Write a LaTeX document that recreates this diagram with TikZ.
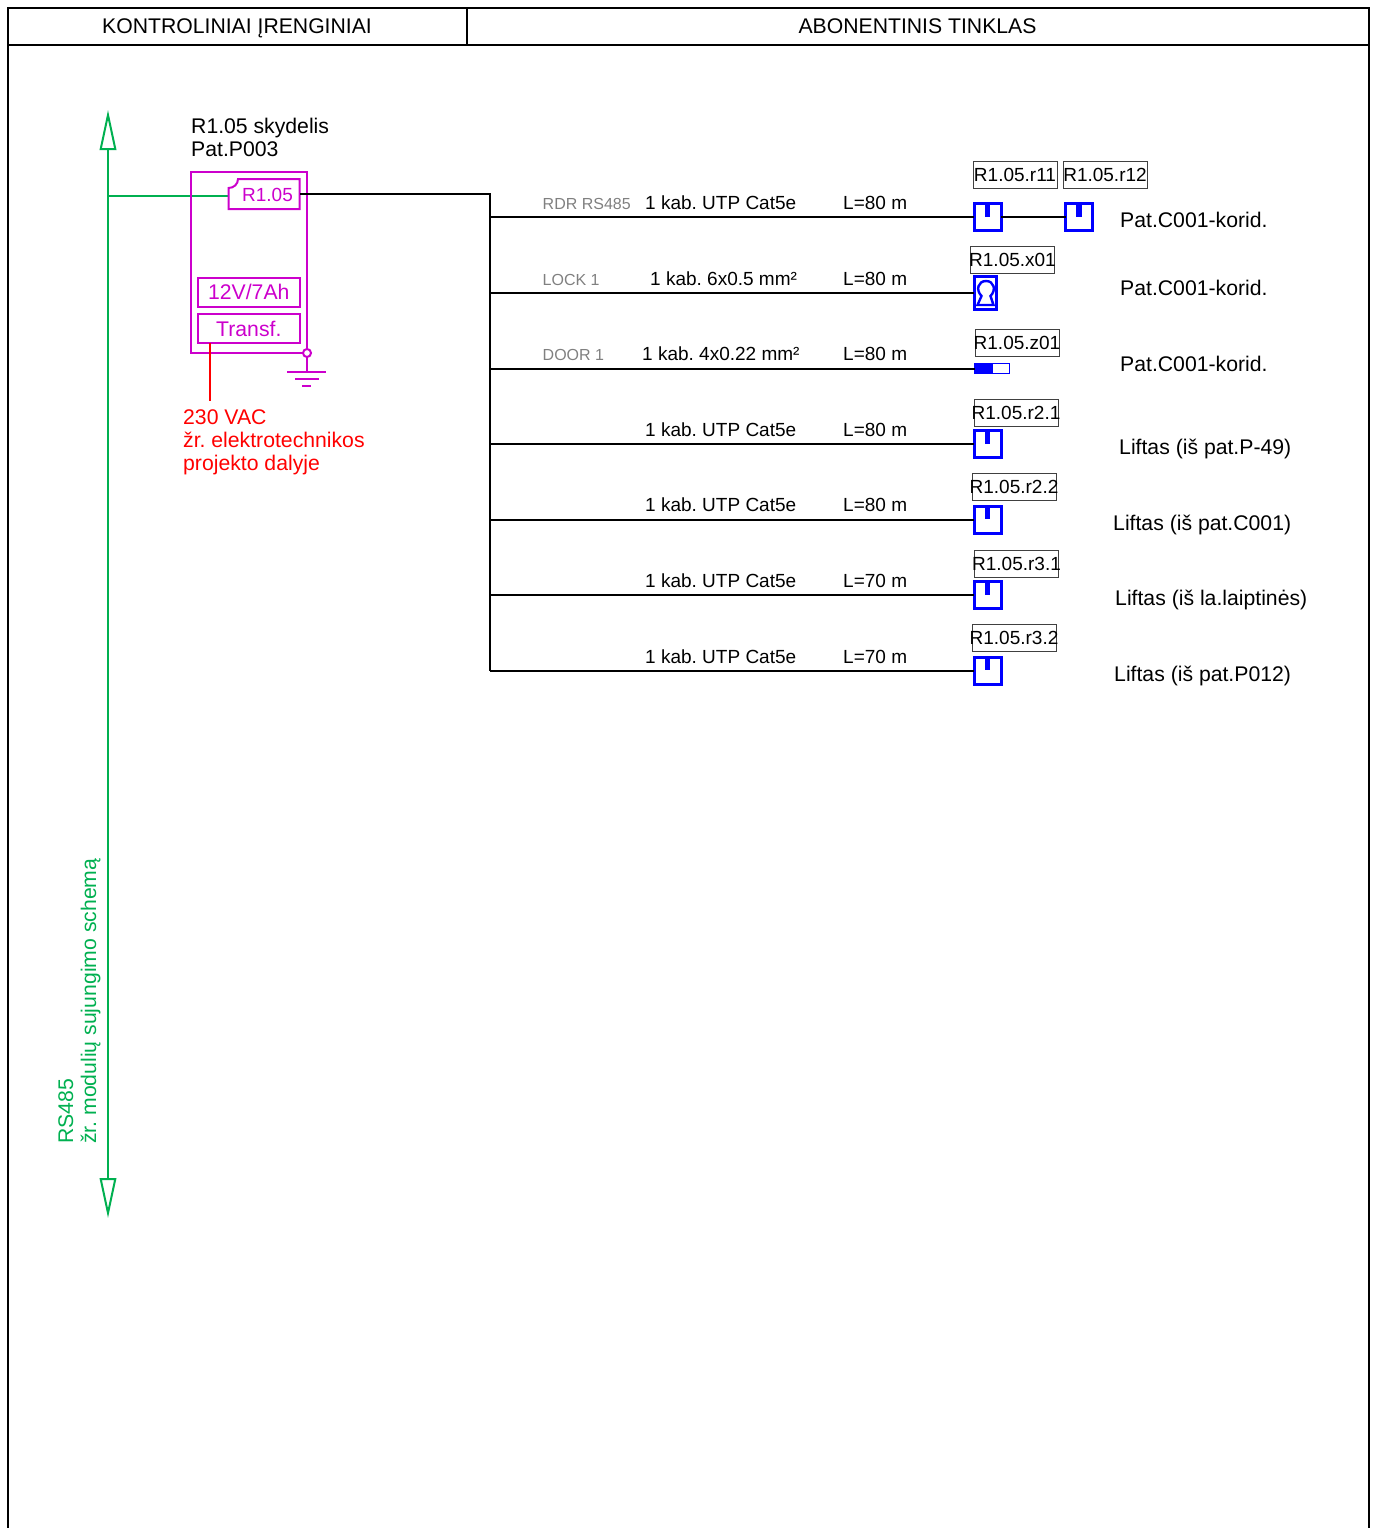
\documentclass[tikz,border=0pt]{standalone}
\usepackage{fontspec}
\setmainfont{Liberation Sans}
\frenchspacing
\usetikzlibrary{arrows.meta}
\definecolor{panelmag}{RGB}{204,0,204}
\definecolor{rsgreen}{RGB}{0,176,80}
\definecolor{taggrey}{RGB}{128,128,128}
\tikzset{
	big/.style={inner sep=0pt,font=\fontsize{21.2}{23}\selectfont},
	mid/.style={inner sep=0pt,font=\fontsize{19}{23}\selectfont},
	small/.style={inner sep=0pt,text=taggrey,font=\fontsize{16}{20}\selectfont},
	cable/.style={draw=black,line width=2pt},
	frameline/.style={draw=black,line width=2pt},
	panel/.style={draw=panelmag,line width=2pt},
	rsline/.style={draw=rsgreen,line width=2pt},
	reader/.style={draw=blue,line width=3pt,fill=white,minimum size=27pt,inner sep=0pt,outer sep=0pt},
	notch/.style={draw=blue,line width=5.5pt},
	tagbox/.style={draw=black!75,line width=0.9pt,minimum width=84pt,minimum height=27pt,inner sep=0pt,outer sep=0pt,font=\fontsize{19}{23}\selectfont},
	modbox/.style={panel,text=panelmag,minimum width=101.5pt,minimum height=29pt,inner sep=0pt,outer sep=0pt,font=\fontsize{21.2}{23}\selectfont}
}

\begin{document}
\begin{tikzpicture}[x=1pt,y=-1pt]
\useasboundingbox (0,0) rectangle (1374,1528);
% frame
\coordinate (FA) at (8,1528);
\coordinate (FB) at (8,8);
\coordinate (FC) at (1368.5,8);
\coordinate (FD) at (1368.5,1528);
\coordinate (HA) at (8,45);
\coordinate (HB) at (1368.5,45);
\coordinate (HC) at (467,8);
\coordinate (HD) at (467,45);
\draw[frameline] (FA)--(FB)--(FC)--(FD);
\draw[frameline] (HA)--(HB);
\draw[frameline] (HC)--(HD);
\node[big,anchor=base] (head1) at (237,34) {KONTROLINIAI ĮRENGINIAI};
\node[big,anchor=base] (head2) at (917.5,34) {ABONENTINIS TINKLAS};
% RS485
\coordinate (GA) at (108,110);
\coordinate (GB) at (108,1218);
\coordinate (GC) at (108,196);
\coordinate (GD) at (228,196);
\draw[rsline,{Triangle[open,length=40pt,width=16.5pt]}-{Triangle[open,length=40pt,width=16.5pt]}] (GA)--(GB);
\draw[rsline] (GC)--(GD);
\node[big,text=rsgreen,rotate=90,anchor=west,align=left] (rs) at (79.5,1144) {RS485\\žr. modulių sujungimo schemą};
% panel
\node[big,anchor=west,align=left] (title) at (191,137) {R1.05 skydelis\\Pat.P003};
\coordinate (PA) at (191,172);
\coordinate (PB) at (307,353);
\draw[panel] (PA) rectangle (PB);
\draw[panel] (228.5,188) .. controls (234,188) and (238,184) .. (238,179) -- (299.5,179) -- (299.5,209) -- (228.5,209) -- cycle;
\coordinate (R105) at (300,194);
\node[mid,text=panelmag] (r105txt) at (267.5,195) {R1.05};
\node[modbox] (batt) at (248.8,292) {12V/7Ah};
\node[modbox] (transf) at (248.8,328.5) {Transf.};
% ground
\node[circle,panel,fill=white,minimum size=8pt,inner sep=0pt,outer sep=0pt] (gnd) at (307,353) {};
\coordinate (EA) at (307,372);
\draw[panel] (gnd)--(EA);
\draw[panel] (287,372)--(326,372);
\draw[panel] (295,379)--(319,379);
\draw[panel] (302,386)--(311,386);
% 230 VAC
\coordinate (VA) at (210,343);
\coordinate (VB) at (210,401);
\draw[draw=red,line width=2pt] (VA)--(VB);
\node[big,text=red,anchor=west,align=left] (vac) at (183,442) {230 VAC\\žr. elektrotechnikos\\projekto dalyje};
% trunk
\coordinate (TA) at (490,194);
\coordinate (T1) at (490,217);
\coordinate (T2) at (490,293);
\coordinate (T3) at (490,368.5);
\coordinate (T4) at (490,444);
\coordinate (T5) at (490,519.5);
\coordinate (T6) at (490,595);
\coordinate (T7) at (490,670.5);
\draw[cable] (R105)--(TA)--(T7);
% devices
\node[reader] (r11) at (987.7,217) {};
\node[reader] (r12) at (1079,217) {};
\node[draw=blue,line width=3pt,fill=white,minimum width=22pt,minimum height=33pt,inner sep=0pt,outer sep=0pt] (x01) at (985,293) {};
\draw[draw=blue,line width=2.4pt] (981.5,296) .. controls (975.5,290) and (978,281) .. (986,281) .. controls (994,281) and (996.5,290) .. (990.5,296) -- (993.5,305) -- (977.5,305) -- cycle;
\node[draw=blue,line width=1pt,fill=white,minimum width=35pt,minimum height=10pt,inner sep=0pt,outer sep=0pt] (z01) at (992,368.5) {};
\fill[blue] (974,363.5) rectangle (992.5,373.5);
\node[reader] (r21) at (987.7,444) {};
\node[reader] (r22) at (987.7,519.5) {};
\node[reader] (r31) at (987.7,595) {};
\node[reader] (r32) at (987.7,670.5) {};
\draw[notch] (r11.north)--++(0,13);
\draw[notch] (r12.north)--++(0,13);
\draw[notch] (r21.north)--++(0,13);
\draw[notch] (r22.north)--++(0,13);
\draw[notch] (r31.north)--++(0,13);
\draw[notch] (r32.north)--++(0,13);
\draw[cable] (T1)--(r11);
\draw[cable] (r11)--(r12);
\draw[cable] (T2)--(x01);
\draw[cable] (T3)--(z01);
\draw[cable] (T4)--(r21);
\draw[cable] (T5)--(r22);
\draw[cable] (T6)--(r31);
\draw[cable] (T7)--(r32);
% device tags
\node[tagbox] (tr11) at (1015,174.5) {\makebox[0pt]{R1.05.r11}};
\node[tagbox] (tr12) at (1105,174.5) {\makebox[0pt]{R1.05.r12}};
\node[tagbox] (tx01) at (1012.5,259.5) {\makebox[0pt]{R1.05.x01}};
\node[tagbox] (tz01) at (1017,342.5) {\makebox[0pt]{R1.05.z01}};
\node[tagbox] (tr21) at (1016,412.5) {\makebox[0pt]{R1.05.r2.1}};
\node[tagbox] (tr22) at (1014,486.5) {\makebox[0pt]{R1.05.r2.2}};
\node[tagbox] (tr31) at (1016.5,563.5) {\makebox[0pt]{R1.05.r3.1}};
\node[tagbox] (tr32) at (1014,638) {\makebox[0pt]{R1.05.r3.2}};
% cable labels
\node[small,anchor=base west] (c1) at (542.5,209) {RDR RS485};
\node[small,anchor=base west] (c2) at (542.5,285) {LOCK 1};
\node[small,anchor=base west] (c3) at (542.5,360) {DOOR 1};
\node[mid,anchor=base west] (k1) at (645,209.5) {1 kab. UTP Cat5e};
\node[mid,anchor=base west] (k2) at (650,285) {1 kab. 6x0.5 mm²};
\node[mid,anchor=base west] (k3) at (642,360) {1 kab. 4x0.22 mm²};
\node[mid,anchor=base west] (k4) at (645,436) {1 kab. UTP Cat5e};
\node[mid,anchor=base west] (k5) at (645,511.5) {1 kab. UTP Cat5e};
\node[mid,anchor=base west] (k6) at (645,587) {1 kab. UTP Cat5e};
\node[mid,anchor=base west] (k7) at (645,663) {1 kab. UTP Cat5e};
\node[mid,anchor=base west] (l1) at (843,209.5) {L=80 m};
\node[mid,anchor=base west] (l2) at (843,285) {L=80 m};
\node[mid,anchor=base west] (l3) at (843,360) {L=80 m};
\node[mid,anchor=base west] (l4) at (843,436) {L=80 m};
\node[mid,anchor=base west] (l5) at (843,511.5) {L=80 m};
\node[mid,anchor=base west] (l6) at (843,587) {L=70 m};
\node[mid,anchor=base west] (l7) at (843,663) {L=70 m};
% places
\node[big,anchor=base west] (p1) at (1120,227) {Pat.C001-korid.};
\node[big,anchor=base west] (p2) at (1120,295) {Pat.C001-korid.};
\node[big,anchor=base west] (p3) at (1120,371) {Pat.C001-korid.};
\node[big,anchor=base west] (p4) at (1119,454) {Liftas (iš pat.P-49)};
\node[big,anchor=base west] (p5) at (1113,530) {Liftas (iš pat.C001)};
\node[big,anchor=base west] (p6) at (1115,605) {Liftas (iš la.laiptinės)};
\node[big,anchor=base west] (p7) at (1114,681) {Liftas (iš pat.P012)};
\end{tikzpicture}
\end{document}
